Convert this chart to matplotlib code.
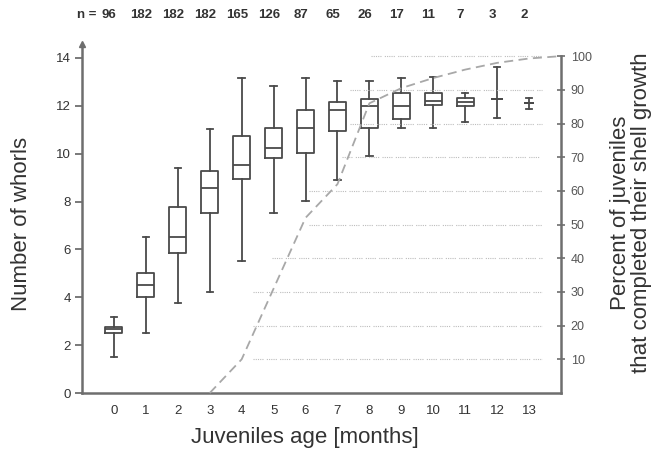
import matplotlib.pyplot as plt
from matplotlib.transforms import blended_transform_factory

plt.rcParams['font.family'] = ['Liberation Sans', 'DejaVu Sans']

# box summary per month of age (number of whorls)
months = list(range(14))
n_counts = [96, 182, 182, 182, 165, 126, 87, 65, 26, 17, 11, 7, 3, 2]
whis_hi = [3.19, 6.5, 9.39, 11.03, 13.15, 12.84, 13.18, 13.04, 13.04, 13.18, 13.22, 12.52, 13.6, 12.31]
q3 = [2.77, 5.0, 7.79, 9.28, 10.75, 11.09, 11.83, 12.15, 12.27, 12.55, 12.52, 12.31, 12.27, 12.1]
med = [2.66, 4.51, 6.53, 8.55, 9.53, 10.25, 11.06, 11.83, 11.97, 12.01, 12.2, 12.17, 12.27, 12.1]
q1 = [2.52, 4.0, 5.84, 7.51, 8.94, 9.81, 10.02, 10.95, 11.06, 11.45, 12.04, 11.99, 12.27, 12.1]
whis_lo = [1.49, 2.52, 3.77, 4.22, 5.53, 7.51, 8.02, 8.9, 9.9, 11.06, 11.09, 11.34, 11.5, 11.85]

# cumulative percent of juveniles that completed growth
pct_age = [3, 4, 5, 6, 7, 8, 9, 10, 11, 12, 13, 14]
pct_done = [0, 10, 31, 52, 62, 86, 90.5, 93.5, 96, 98, 99.3, 100]

grid_levels = [10, 20, 30, 40, 50, 60, 70, 80, 90, 100]

dark = '#4a4a4a'
txt = '#333333'

fig = plt.figure(figsize=(6.59, 4.53), dpi=100)
ax = fig.add_axes([82/659, 1-393/453, 479/659, 349/453])
ax.set_xlim(-1, 14)
ax.set_ylim(0, 14.58)

stats = []
for i in range(len(months)):
    stats.append(dict(med=med[i], q1=q1[i], q3=q3[i], whislo=whis_lo[i], whishi=whis_hi[i], fliers=[]))
widths = [0.53]*12 + [0.32, 0.26]
capw = [0.2]*14
lp = dict(color=dark, lw=1.3)
ax.bxp(stats, positions=months, widths=widths, capwidths=capw, showfliers=False,
       boxprops=lp, whiskerprops=lp, capprops=lp, medianprops=lp, manage_ticks=False)

for s in ['top', 'right']:
    ax.spines[s].set_visible(False)
for s in ['left', 'bottom']:
    ax.spines[s].set_color('#6e6e6e')
    ax.spines[s].set_linewidth(1.8)
ax.plot([0], [1], marker='^', ms=4, color='#6e6e6e', transform=ax.transAxes, clip_on=False)

ax.set_xticks(months)
ax.set_yticks(range(0, 15, 2))
ax.tick_params(axis='x', length=0, pad=9, labelsize=9.5, labelcolor=txt)
ax.tick_params(axis='y', length=5, width=1.3, color='#6e6e6e', pad=3, labelsize=9.5, labelcolor=txt)

# right axis: percent
ax2 = ax.twinx()
ax2.set_ylim(0, 103.6)
for s in ['top', 'left', 'bottom']:
    ax2.spines[s].set_visible(False)
ax2.spines['right'].set_bounds(0, 100)
ax2.spines['right'].set_color('#6e6e6e')
ax2.spines['right'].set_linewidth(1.8)
ax2.set_yticks(grid_levels)
ax2.tick_params(axis='y', direction='inout', length=6, width=1.2, color='#6e6e6e', pad=4,
                labelsize=9, labelcolor='#555555')

grid_start = [4.35, 4.35, 4.35, 4.95, 6.1, 6.1, 7.15, 7.4, 7.4, 8.05]
ax2.hlines(grid_levels, grid_start, 13.4, colors='#bdbdbd', lw=0.8,
           linestyles=(0, (1, 1, 1, 1, 1, 1, 1, 1, 1, 3)))
ax2.plot(pct_age, pct_done, color='#a8a8a8', lw=1.3, ls=(0, (5, 3)), clip_on=False)

# sample sizes
tr = blended_transform_factory(ax.transData, fig.transFigure)
for m, n in zip(months, n_counts):
    ax.text(m - 0.15, 1 - 15/453, str(n), transform=tr, ha='center', va='center',
            fontsize=9.5, fontweight='bold', color=txt)
ax.text(-0.55, 1 - 15/453, 'n =', transform=tr, ha='right', va='center',
        fontsize=9.5, fontweight='bold', color=txt)

fig.text(305/659, 1 - 437/453, 'Juveniles age [months]', ha='center', va='center', fontsize=16, color=txt)
fig.text(22/659, 1 - 224/453, 'Number of whorls', rotation=90, ha='center', va='center', fontsize=16, color=txt)
fig.text(631/659, 1 - 213/453, 'Percent of juveniles\nthat completed their shell growth', rotation=90,
         ha='center', va='center', multialignment='center', linespacing=1.0, fontsize=16, color=txt)

fig.savefig('out.png', dpi=100)
